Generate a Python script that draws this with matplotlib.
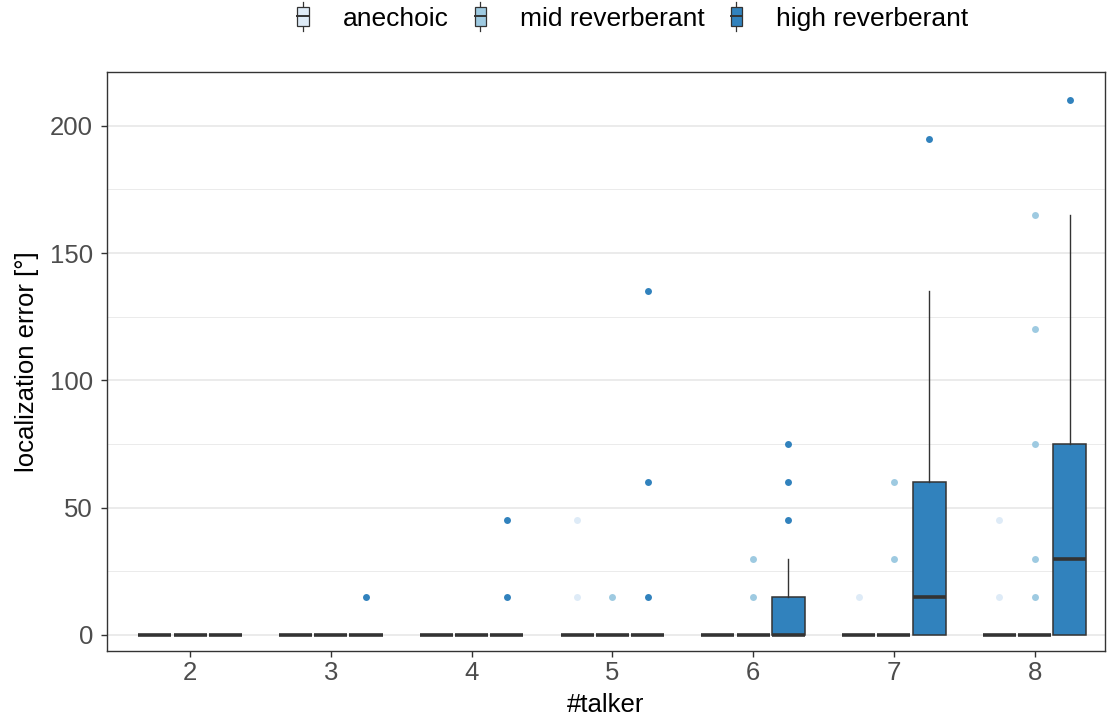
import numpy as np
import matplotlib.pyplot as plt
from matplotlib.legend_handler import HandlerBase
from matplotlib.patches import Rectangle
from matplotlib.lines import Line2D

plt.rcParams['font.family'] = ['Liberation Sans', 'DejaVu Sans']

talkers = ["2", "3", "4", "5", "6", "7", "8"]
conditions = ["anechoic", "mid reverberant", "high reverberant"]
colors = ["#DEEBF7", "#9ECAE1", "#3182BD"]

# box stats per condition, per talker: (q1, median, q3, whisker low, whisker high)
anechoic_box = [(0, 0, 0, 0, 0)] * 7
mid_box = [(0, 0, 0, 0, 0)] * 7
high_box = [(0, 0, 0, 0, 0), (0, 0, 0, 0, 0), (0, 0, 0, 0, 0), (0, 0, 0, 0, 0),
            (0, 0, 15, 0, 30), (0, 15, 60, 0, 135), (0, 30, 75, 0, 165)]

anechoic_out = [[], [], [], [15, 45], [], [15], [15, 45]]
mid_out = [[], [], [], [15], [15, 30], [30, 60], [15, 30, 75, 120, 165]]
high_out = [[], [15], [15, 45], [15, 60, 135], [45, 60, 75], [195], [210]]

boxes = [anechoic_box, mid_box, high_box]
outs = [anechoic_out, mid_out, high_out]

fig = plt.figure(figsize=(11.07, 7.19), dpi=100)
ax = fig.add_axes([0.0967, 0.0946, 0.9015, 0.8054])

x = np.arange(1, len(talkers) + 1)
offsets = [-0.25, 0, 0.25]
for k in range(3):
    stats = []
    for i in range(len(talkers)):
        q1, med, q3, lo, hi = boxes[k][i]
        stats.append(dict(q1=q1, med=med, q3=q3, whislo=lo, whishi=hi,
                          fliers=outs[k][i]))
    ax.bxp(stats, positions=x + offsets[k], widths=0.235, patch_artist=True,
           showcaps=False, manage_ticks=False,
           boxprops=dict(facecolor=colors[k], edgecolor="#333333", linewidth=1.1),
           medianprops=dict(color="#333333", linewidth=2.6, solid_capstyle="butt"),
           whiskerprops=dict(color="#333333", linewidth=1.0),
           flierprops=dict(marker="o", markerfacecolor=colors[k],
                           markeredgecolor="none", markersize=5))

ax.set_xlim(0.41, 7.5)
ax.set_ylim(-6.3, 221.2)
ax.set_xticks(x)
ax.set_xticklabels(talkers)
ax.set_yticks([0, 50, 100, 150, 200])
ax.set_yticks([25, 75, 125, 175], minor=True)
ax.grid(axis="y", which="major", color="#EBEBEB", linewidth=1.4, zorder=0)
ax.grid(axis="y", which="minor", color="#EBEBEB", linewidth=0.7, zorder=0)
ax.set_axisbelow(True)
for s in ax.spines.values():
    s.set_color("#333333")
    s.set_linewidth(1.0)
ax.tick_params(axis="both", which="major", labelsize=18.5, labelcolor="#4D4D4D",
               color="#333333", length=4, width=1.0)
ax.tick_params(axis="y", which="major", pad=6)
ax.tick_params(axis="x", which="major", pad=3)
ax.tick_params(axis="y", which="minor", length=0)
ax.set_xlabel("#talker", fontsize=18.5, labelpad=6)
ax.set_ylabel("localization error [°]", fontsize=18.5, labelpad=8)


class BoxHandler(HandlerBase):
    def create_artists(self, legend, orig, xd, yd, w, h, fontsize, trans):
        c = orig.get_facecolor()
        cx = xd + w / 2
        bw = w * 0.5
        line = Line2D([cx, cx], [yd - h * 0.3, yd + h * 1.3], color="#333333", lw=0.9)
        rect = Rectangle((cx - bw / 2, yd), bw, h, facecolor=c,
                         edgecolor="#333333", lw=0.9)
        med = Line2D([cx - bw / 2, cx + bw / 2], [yd + h / 2, yd + h / 2],
                     color="#333333", lw=1.4)
        for a in (line, rect, med):
            a.set_transform(trans)
        return [line, rect, med]


handles = [Rectangle((0, 0), 1, 1, facecolor=c) for c in colors]
fig.legend(handles, conditions, handler_map={Rectangle: BoxHandler()},
           loc="center", bbox_to_anchor=(0.569, 0.974), ncol=3, frameon=False,
           fontsize=19, handlelength=0.9, handleheight=0.7, handletextpad=1.05,
           columnspacing=0.75)

fig.savefig("out.png", dpi=100)
